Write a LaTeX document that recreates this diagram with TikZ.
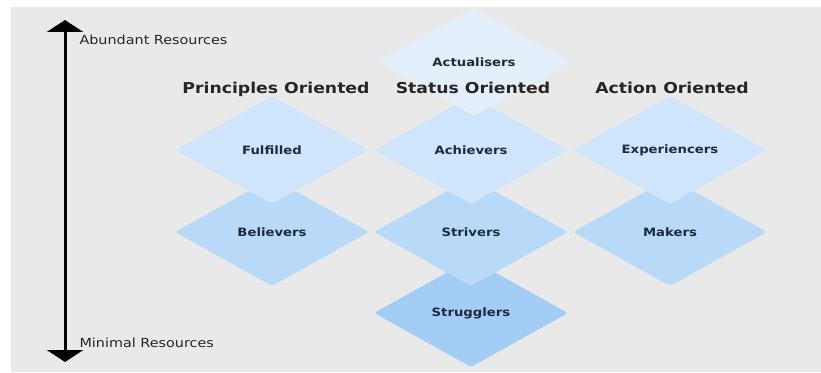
\documentclass[tikz,border=0pt]{standalone}
\usepackage{fontspec}
\setmainfont{DejaVu Sans}[FakeStretch=1.15]
\usepackage{tikz}
\usetikzlibrary{arrows.meta}
\usetikzlibrary{shapes.geometric}

\definecolor{bggray}{HTML}{E9E9E9}
\definecolor{tierA}{HTML}{E3F0FC}
\definecolor{tierB}{HTML}{CFE5FB}
\definecolor{tierC}{HTML}{B9D9F8}
\definecolor{tierD}{HTML}{A4CDF6}
\definecolor{labelink}{HTML}{1C2B3E}

\tikzset{
    segment/.style={diamond, aspect=1.8, minimum width=194pt, minimum height=108pt,
        inner sep=0pt, rounded corners=3pt, text=labelink,
        font=\fontsize{11.5}{14}\selectfont\bfseries},
    heading/.style={anchor=base, text=black!85, font=\fontsize{15}{18}\selectfont\bfseries},
    axislabel/.style={anchor=west, text=black!85, font=\fontsize{12.5}{15}\selectfont}
}

\begin{document}
\begin{tikzpicture}[x=1pt, y=1pt]
        \useasboundingbox (0,0) rectangle (821,372);
        \fill[bggray] (11,0) rectangle (821,365);

        % lowest tiers first, so the upper ones lie on top
        \node[segment, fill=tierD] (strugglers) at (471,59) {Strugglers};
        \node[segment, fill=tierC] (believers) at (272,140) {Believers};
        \node[segment, fill=tierC] (strivers) at (471,140) {Strivers};
        \node[segment, fill=tierC] (makers) at (670,140) {Makers};
        \node[segment, fill=tierB] (fulfilled) at (272,222) {Fulfilled};
        \node[segment, fill=tierB] (achievers) at (471,222) {Achievers};
        \node[segment, fill=tierB] (experiencers) at (670,222) {Experiencers};
        \node[segment, fill=tierA] (actualisers) at (474,310) {Actualisers};

        \node[heading] (principles) at (276,278) {Principles Oriented};
        \node[heading] (status) at (473,278) {Status Oriented};
        \node[heading] (action) at (672,278) {Action Oriented};

        % resources axis
        \coordinate (abundant) at (65,352);
        \coordinate (minimal) at (65,10);
        \draw[line width=3pt, {Triangle[width=36pt,length=12pt]}-{Triangle[width=36pt,length=12pt]}] (minimal) -- (abundant);
        \node[axislabel] (abundantlabel) at (76,332) {Abundant Resources};
        \node[axislabel] (minimallabel) at (76,29) {Minimal Resources};
    \end{tikzpicture}
\end{document}
